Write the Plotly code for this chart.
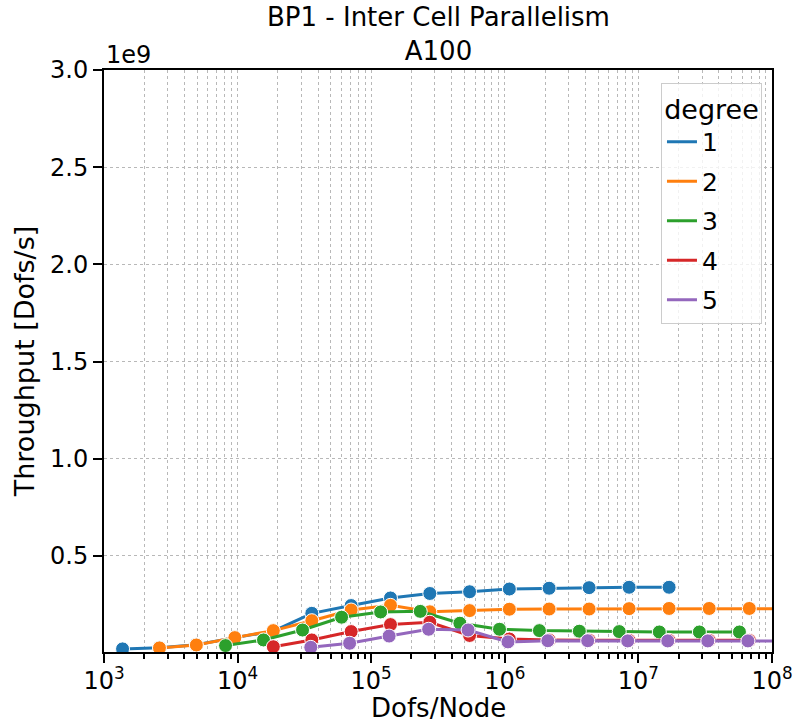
import plotly.graph_objects as go

# ---- data (throughput in units of 1e9 Dofs/s) ----
deg1_x = [1377, 2601, 4913, 9537, 18513, 35937, 70785, 139425, 274625, 545025,
          1081665, 2146689, 4276737, 8520321, 16974593]
deg1_y = [0.022, 0.028, 0.043, 0.080, 0.113, 0.205, 0.245, 0.284, 0.307, 0.316,
          0.330, 0.334, 0.337, 0.339, 0.339]

deg2_x = [2601, 4913, 9537, 18513, 35937, 70785, 139425, 274625, 545025, 1081665,
          2146689, 4276737, 8520321, 16974593, 33883137, 67634433, 135005697]
deg2_y = [0.027, 0.042, 0.080, 0.116, 0.167, 0.222, 0.246, 0.213, 0.219, 0.226,
          0.227, 0.227, 0.229, 0.230, 0.230, 0.230, 0.229]

deg3_x = [8125, 15625, 30625, 60025, 117649, 232897, 461041, 912673, 1815937,
          3613153, 7189057, 14340865, 28607425, 57066625]
deg3_y = [0.039, 0.068, 0.119, 0.185, 0.212, 0.215, 0.154, 0.123, 0.116,
          0.113, 0.111, 0.109, 0.109, 0.109]

deg4_x = [18513, 35937, 70785, 139425, 274625, 545025, 1081665, 2146689, 4276737,
          8520321, 16974593, 33883137, 67634433]
deg4_y = [0.033, 0.068, 0.111, 0.147, 0.159, 0.091, 0.073, 0.068, 0.067,
          0.066, 0.066, 0.066, 0.066]

deg5_x = [35301, 68921, 136161, 269001, 531441, 1056321, 2099601, 4173281, 8320641,
          16589601, 33076161, 66049281, 131896161]
deg5_y = [0.030, 0.051, 0.088, 0.123, 0.119, 0.058, 0.064, 0.064, 0.063,
          0.063, 0.063, 0.063, 0.063]

degrees = ["1", "2", "3", "4", "5"]
series_x = [deg1_x, deg2_x, deg3_x, deg4_x, deg5_x]
series_y = [deg1_y, deg2_y, deg3_y, deg4_y, deg5_y]
colors = ["#1f77b4", "#ff7f0e", "#2ca02c", "#d62728", "#9467bd"]

x_tickvals = [1e3, 1e4, 1e5, 1e6, 1e7, 1e8]
x_ticktext = ["10<sup>3</sup>", "10<sup>4</sup>", "10<sup>5</sup>",
              "10<sup>6</sup>", "10<sup>7</sup>", "10<sup>8</sup>"]
x_minor = [k * 10 ** e for e in range(3, 8) for k in range(2, 10)]

title_lines = ["BP1 - Inter Cell Parallelism", "A100"]
x_title = "Dofs/Node"
y_title = "Throughput [Dofs/s]"

FONT = "DejaVu Sans"
TICK = 24
LABEL = 26

fig = go.Figure()
for name, xs, ys, c in zip(degrees, series_x, series_y, colors):
    fig.add_trace(go.Scatter(
        x=xs, y=ys, mode="lines+markers", showlegend=False,
        line=dict(color=c, width=3),
        marker=dict(color=c, size=14, line=dict(color="white", width=1)),
    ))
for name, c in zip(degrees, colors):
    fig.add_trace(go.Scatter(
        x=[None], y=[None], mode="lines", name=name, legendgroup=name,
        line=dict(color=c, width=3),
    ))

axis_common = dict(
    showline=True, linecolor="black", linewidth=2, mirror=True,
    ticks="outside", ticklen=9, tickwidth=2, tickcolor="black",
    showgrid=True, gridcolor="#b8b8b8", gridwidth=1.2, griddash="dot",
    zeroline=False, automargin=False,
    tickfont=dict(family=FONT, size=TICK, color="black"),
)

fig.update_xaxes(
    type="log", range=[3, 8], tickvals=x_tickvals, ticktext=x_ticktext,
    ticklabelstandoff=-3,
    minor=dict(tickvals=x_minor, ticks="outside", ticklen=5, tickwidth=1.5,
               tickcolor="black", showgrid=True, gridcolor="#b8b8b8",
               gridwidth=1.2, griddash="dot"),
    **axis_common,
)
fig.update_yaxes(
    range=[0.006, 3.0], tick0=0.5, dtick=0.5, tickformat=".1f",
    title=dict(text=y_title,
               font=dict(family=FONT, size=LABEL + 1, color="black"), standoff=8),
    **axis_common,
)

fig.add_annotation(
    text=x_title, xref="paper", yref="paper", x=0.5, y=0,
    xanchor="center", yanchor="middle", showarrow=False, yshift=-56,
    font=dict(family=FONT, size=LABEL, color="black"),
)
fig.add_annotation(
    text="1e9", xref="paper", yref="paper", x=0, y=1, xanchor="left",
    yanchor="bottom", showarrow=False, yshift=-1,
    font=dict(family=FONT, size=TICK, color="black"),
)
fig.add_annotation(
    text="<br>".join(title_lines), xref="paper", yref="paper", x=0.5, y=1,
    xanchor="center", yanchor="bottom", showarrow=False, yshift=2,
    align="center", font=dict(family=FONT, size=26, color="black"),
)

fig.update_layout(
    width=798, height=725,
    margin=dict(l=104, r=26, t=70, b=73),
    paper_bgcolor="white", plot_bgcolor="white",
    font=dict(family=FONT, size=TICK, color="black"),
    legend=dict(
        x=0.985, y=0.978, xanchor="right", yanchor="top",
        bgcolor="rgba(255,255,255,0.8)", bordercolor="#cccccc", borderwidth=1,
        title=dict(text="degree", side="top center",
                   font=dict(family=FONT, size=27, color="black")),
        font=dict(family=FONT, size=25, color="black"),
        tracegroupgap=4,
    ),
)

fig.write_html("out.html")
